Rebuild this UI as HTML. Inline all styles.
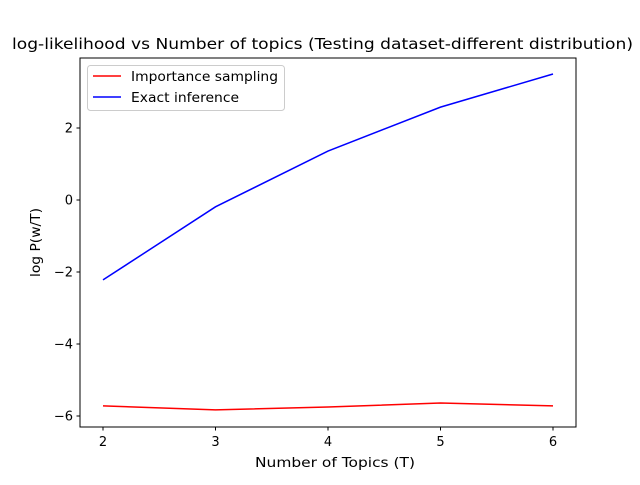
<!DOCTYPE html>
<html><head><meta charset="utf-8"><style>
body{margin:0;background:#fff;font-family:"Liberation Sans","DejaVu Sans",sans-serif}
svg text{font-family:"DejaVu Sans","Liberation Sans",sans-serif}
</style></head><body>
<svg id="chart" width="640" height="480">
<rect width="640" height="480" fill="#fff"/>
<text x="12" y="49" font-size="15.5" textLength="621" lengthAdjust="spacingAndGlyphs">log-likelihood vs Number of topics (Testing dataset-different distribution)</text>
<g id="plot"></g>
<rect x="80" y="58" width="496" height="369" fill="none" stroke="#000" stroke-width="1"/>
<text x="255" y="467" font-size="13" textLength="160" lengthAdjust="spacingAndGlyphs">Number of Topics (T)</text>
<text transform="translate(40,277) rotate(-90)" font-size="13" textLength="69" lengthAdjust="spacingAndGlyphs">log P(w/T)</text>
<g>
<rect x="87.5" y="65.5" width="197" height="45" rx="3" fill="#fff" fill-opacity="0.8" stroke="#ccc"/>
<line x1="93" y1="76" x2="121" y2="76" stroke="red" stroke-width="1.5"/>
<text x="131" y="81" font-size="13" textLength="147" lengthAdjust="spacingAndGlyphs">Importance sampling</text>
<line x1="93" y1="97" x2="121" y2="97" stroke="blue" stroke-width="1.5"/>
<text x="131" y="102" font-size="13" textLength="108" lengthAdjust="spacingAndGlyphs">Exact inference</text>
</g>
</svg>
<script>
const topics = [2, 3, 4, 5, 6];
const importanceSampling = [-5.72, -5.83, -5.75, -5.64, -5.72];
const exactInference = [-2.22, -0.19, 1.36, 2.58, 3.5];
const xTicks = [2, 3, 4, 5, 6];
const yTicks = [2, 0, -2, -4, -6];

const NS = "http://www.w3.org/2000/svg";
const g = document.getElementById('plot');
function xs(v){return 103 + (v - 2) * 112.5;}
function ys(v){return 200 - v * 36;}
function mk(tag, attrs){const e = document.createElementNS(NS, tag); for (const k in attrs) e.setAttribute(k, attrs[k]); g.appendChild(e); return e;}

xTicks.forEach(t => {
  const l = mk('line', {x1: xs(t), x2: xs(t), y1: 427, y2: 430.5, stroke: '#000'});
  
  
  const tx = mk('text', {x: xs(t), y: 446, 'font-size': 13, 'text-anchor': 'middle'});
  tx.textContent = t;
  
  
});
yTicks.forEach(t => {
  const l = mk('line', {x1: 76.5, x2: 80, y1: ys(t), y2: ys(t), stroke: '#000'});
  
  
  const tx = mk('text', {x: 73, y: ys(t) + 4.5, 'font-size': 13, 'text-anchor': 'end'});
  tx.textContent = t < 0 ? '\u2212' + Math.abs(t) : t;
  
  
});
function line(vals, color, name){
  const p = mk('polyline', {points: vals.map((v, i) => xs(topics[i]) + ',' + ys(v)).join(' '), fill: 'none', stroke: color, 'stroke-width': 1.5});
  
  
}
line(importanceSampling, 'red', 'importance-sampling-line');
line(exactInference, 'blue', 'exact-inference-line');
</script>
</body></html>
